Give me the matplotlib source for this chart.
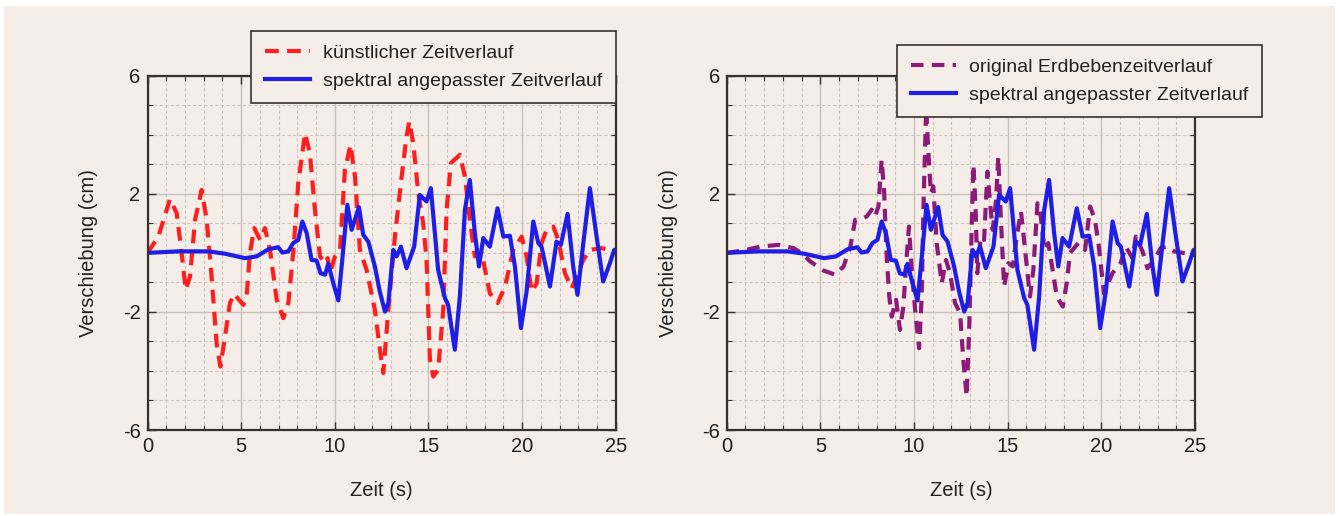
import matplotlib
matplotlib.use("Agg")
import matplotlib.pyplot as plt
from matplotlib.patches import Rectangle
from matplotlib.ticker import MultipleLocator, FixedLocator

plt.rcParams["font.family"] = ["Liberation Sans", "DejaVu Sans"]
plt.rcParams["axes.unicode_minus"] = False

# --- data (time in s, displacement in cm) ---
t_kuenstlich = [0.0, 0.58, 1.2, 1.56, 1.82, 2.04, 2.27, 2.54, 2.89, 3.16, 3.42, 3.69, 3.89,
                4.14, 4.4, 4.64, 4.88, 5.12, 5.29, 5.47, 5.7, 6.01, 6.27, 6.54, 6.9, 7.25,
                7.52, 7.78, 8.05, 8.41, 8.67, 8.94, 9.21, 9.48, 9.62, 9.74, 10.01, 10.28,
                10.54, 10.84, 11.08, 11.34, 11.7, 12.14, 12.41, 12.59, 12.86, 13.21, 13.57,
                13.83, 13.98, 14.19, 14.46, 14.72, 14.9, 15.08, 15.26, 15.52, 15.79, 15.97,
                16.2, 16.68, 16.95, 17.21, 17.48, 17.84, 18.28, 18.7, 19.09, 19.53, 19.98,
                20.24, 20.51, 20.78, 21.04, 21.31, 21.67, 21.93, 22.29, 22.65, 22.91, 23.27,
                23.62, 24.25, 25.0]
v_kuenstlich = [0.0, 0.55, 1.82, 1.34, 0.0, -1.25, -0.8, 1.12, 2.13, 1.12, -0.8, -3.06, -3.85,
                -2.83, -1.7, -1.39, -1.59, -1.76, -1.48, 0.0, 0.84, 0.44, 0.84, 0.1, -1.59, -2.21,
                -1.7, 0.0, 2.36, 4.05, 3.37, 1.46, -0.12, -0.35, -0.18, -0.69, -0.12, 0.1,
                2.81, 3.66, 2.58, 0.1, -0.58, -1.93, -3.28, -4.07, -1.93, 0.55, 2.58,
                3.94, 4.45, 3.71, 2.02, 1.0, -0.24, -3.62, -4.19, -3.96, -1.93, 1.46,
                3.04, 3.32, 2.58, 1.12, -0.12, 0.0, -1.37, -1.7, -1.14, 0.1, 0.55,
                -0.12, -1.31, -1.03, 0.33, 0.78, 0.89, 0.44, -0.69, -1.2, -0.8, -0.24,
                0.1, 0.16, 0.05]

t_spektral = [0.0, 1.65, 3.25, 4.14, 5.2, 5.83, 6.45, 6.98, 7.2, 7.52, 7.78, 8.05, 8.27, 8.5,
              8.76, 9.03, 9.24, 9.48, 9.65, 9.92, 10.19, 10.45, 10.67, 10.9, 11.29, 11.52,
              11.79, 12.14, 12.4, 12.68, 12.86, 13.12, 13.3, 13.53, 13.83, 14.24, 14.54, 14.9,
              15.13, 15.52, 15.88, 16.05, 16.41, 16.68, 16.95, 17.21, 17.48, 17.7, 17.93,
              18.28, 18.69, 19.0, 19.35, 19.62, 19.94, 20.24, 20.6, 20.87, 21.04, 21.49,
              21.84, 22.07, 22.43, 22.73, 22.96, 23.27, 23.62, 23.98, 24.33, 24.69, 24.92, 25.0]
v_spektral = [0.0, 0.05, 0.05, -0.03, -0.18, -0.12, 0.12, 0.19, 0.01, 0.05, 0.33, 0.44, 1.06, 0.67,
              -0.24, -0.26, -0.69, -0.74, -0.37, -1.03, -1.61, 0.1, 1.63, 0.78, 1.55, 0.61,
              0.38, -0.46, -1.3, -1.99, -1.7, 0.1, -0.12, 0.21, -0.52, 0.21, 1.96, 1.74,
              2.19, -0.58, -1.53, -1.76, -3.28, -1.48, 1.46, 2.47, 0.67, -0.46, 0.5,
              0.21, 1.51, 0.55, 0.58, -0.46, -2.55, -1.31, 1.06, 0.33, 0.21, -1.14,
              0.38, 0.27, 1.32, -0.46, -1.42, 0.33, 2.19, 0.55, -0.97, -0.35, 0.1, 0.1]

t_original = [0.0, 0.9, 1.78, 2.76, 3.57, 4.0, 4.46, 5.17, 5.79, 6.24, 6.6, 6.86, 7.12, 7.47,
              7.74, 7.92, 8.1, 8.27, 8.4, 8.54, 8.68, 8.81, 9.04, 9.25, 9.43, 9.61, 9.73,
              9.88, 10.06, 10.27, 10.41, 10.5, 10.65, 10.77, 10.9, 11.03, 11.21, 11.48,
              11.71, 11.92, 12.19, 12.46, 12.63, 12.81, 12.95, 13.08, 13.17, 13.29, 13.38,
              13.56, 13.74, 13.92, 14.06, 14.2, 14.38, 14.5, 14.63, 14.81, 15.04, 15.27,
              15.48, 15.71, 15.93, 16.19, 16.37, 16.59, 16.73, 16.96, 17.17, 17.4, 17.62,
              17.94, 18.15, 18.33, 18.77, 19.13, 19.4, 19.66, 19.85, 20.14, 20.59, 21.03,
              21.3, 21.66, 21.84, 22.2, 22.46, 22.82, 23.17, 23.53, 23.89, 24.96]
v_original = [0.0, 0.08, 0.21, 0.27, 0.16, -0.01, -0.29, -0.6, -0.74, -0.46, 0.21, 1.12, 1.12, 1.23,
              1.46, 1.23, 1.57, 3.15, 2.13, -0.12, -1.48, -2.16, -1.59, -2.61, -1.82, -0.12, 0.89,
              -0.58, -1.93, -3.23, -1.48, 1.46, 4.9, 3.37, 2.02, 2.25, 0.33, -1.03,
              -0.24, -0.69, -1.7, -2.04, -3.62, -4.86, -2.49, 0.89, 2.98, 1.46, -0.69,
              0.55, 0.44, 2.75, 1.68, 0.78, 1.79, 3.26, 1.23, -1.14, -0.35, -0.46,
              0.55, 1.4, 0.1, -1.48, -0.58, 1.68, 1.46, 0.1, 0.33, -0.58, -1.48,
              -1.82, -1.03, 0.0, 0.33, 0.1, 1.57, 1.12, 0.3, -1.37, -0.69, -0.35,
              0.21, -0.18, 0.55, 0.05, -0.52, -0.24, 0.16, 0.21, 0.05, -0.07]

label_kuenstlich = "künstlicher Zeitverlauf"
label_original = "original Erdbebenzeitverlauf"
label_spektral = "spektral angepasster Zeitverlauf"

BG = "#f5eee8"
FRAME = "#3a302c"
RED = "#ff1e1e"
BLUE = "#1e1ee6"
PURPLE = "#8c1a78"

W, H = 1339, 516
fig = plt.figure(figsize=(W / 100, H / 100), dpi=100, facecolor="white")
fig.patches.append(Rectangle((4 / W, 2 / H), (1335 - 4) / W, (510 - 2) / H,
                             transform=fig.transFigure, facecolor=BG, edgecolor="none", zorder=-10))


def style_axes(ax):
    ax.set_facecolor(BG)
    ax.set_xlim(0, 25)
    ax.set_ylim(-6, 6)
    ax.xaxis.set_major_locator(MultipleLocator(5))
    ax.xaxis.set_minor_locator(MultipleLocator(1))
    ax.yaxis.set_major_locator(FixedLocator([-6, -2, 2, 6]))
    ax.yaxis.set_minor_locator(MultipleLocator(1))
    ax.grid(True, which="major", color="#c9c0ba", linewidth=1.0, linestyle="-")
    ax.grid(True, which="minor", color="#cdc6c0", linewidth=0.8, linestyle=(0, (3, 2)))
    ax.set_axisbelow(True)
    ax.tick_params(which="both", direction="in", top=True, right=True, color=FRAME,
                   labelsize=14.5, labelcolor="#222222")
    ax.tick_params(which="major", length=6, width=1.0, pad=5)
    ax.tick_params(which="minor", length=3.5, width=0.8)
    for spine in ax.spines.values():
        spine.set_color(FRAME)
        spine.set_linewidth(1.6)
    ax.set_xlabel("Zeit (s)", fontsize=14.5, color="#222222")
    ax.set_ylabel("Verschiebung (cm)", fontsize=14.5, color="#222222")
    ax.xaxis.set_label_coords(0.5, -0.145)
    ax.yaxis.set_label_coords(-0.105, 0.5)


ax1 = fig.add_axes([147.5 / W, 1 - 430 / H, (615.7 - 147.5) / W, (430 - 75.7) / H])
ax2 = fig.add_axes([726.7 / W, 1 - 430 / H, (1195 - 726.7) / W, (430 - 75.7) / H])

for ax in (ax1, ax2):
    style_axes(ax)

ax1.plot(t_kuenstlich, v_kuenstlich, color=RED, linewidth=3, linestyle=(0, (3.3, 2)),
         label=label_kuenstlich, solid_joinstyle="round")
ax1.plot(t_spektral, v_spektral, color=BLUE, linewidth=3, label=label_spektral,
         solid_joinstyle="round")

ax2.plot(t_original, v_original, color=PURPLE, linewidth=3, linestyle=(0, (3.0, 2)),
         label=label_original)
ax2.plot(t_spektral, v_spektral, color=BLUE, linewidth=3, label=label_spektral,
         solid_joinstyle="round")

legend_kw = dict(loc="upper right", fontsize=14, frameon=True, fancybox=False,
                 framealpha=1, facecolor=BG, edgecolor=FRAME, handlelength=2.3,
                 handletextpad=0.7, labelspacing=0.5, borderpad=0.7, borderaxespad=0)
leg1 = ax1.legend(bbox_to_anchor=(616 / W, 1 - 31 / H), bbox_transform=fig.transFigure, **legend_kw)
leg2 = ax2.legend(bbox_to_anchor=(1262 / W, 1 - 45 / H), bbox_transform=fig.transFigure, **legend_kw)
for leg in (leg1, leg2):
    leg.get_frame().set_linewidth(1.2)
    for txt in leg.get_texts():
        txt.set_color("#222222")

fig.savefig("out.png", dpi=100, facecolor=fig.get_facecolor())
